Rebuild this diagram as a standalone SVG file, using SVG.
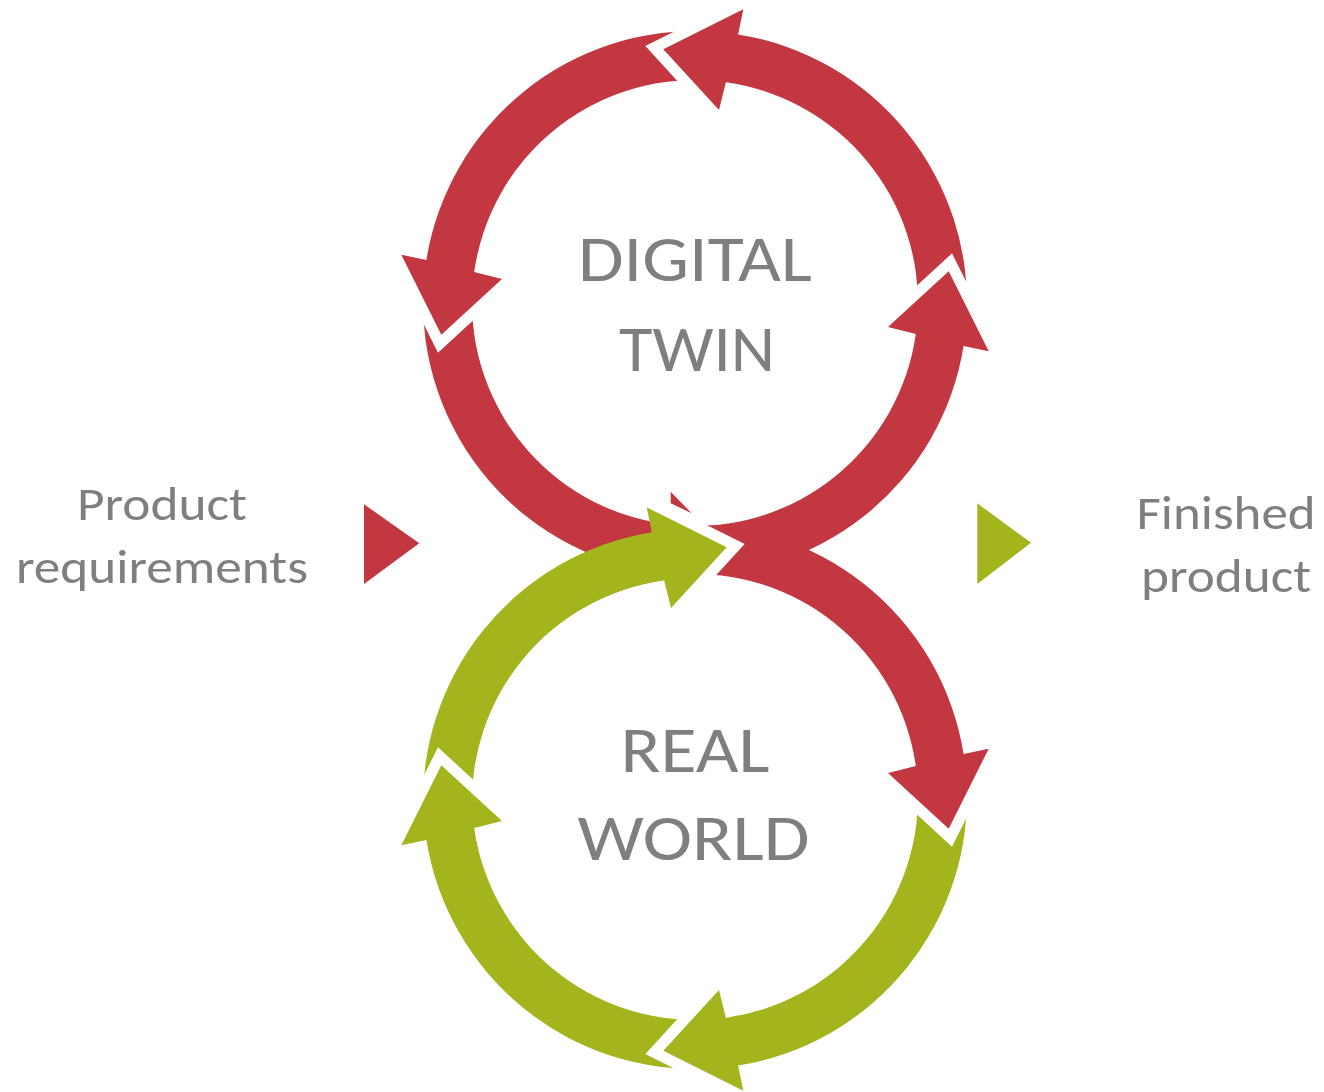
<svg xmlns="http://www.w3.org/2000/svg" xmlns:xlink="http://www.w3.org/1999/xlink" width="1324" height="1092" viewBox="0 0 1324 1092">
<style>
.red{fill:#C33741}
.green{fill:#A4B41D}
.gap{fill:none;stroke:#FFFFFF;stroke-width:22;stroke-linejoin:miter;stroke-miterlimit:10}
.big{font-family:Carlito,Lato,"Open Sans",sans-serif;font-size:66px;fill:#7F7F7F;text-anchor:middle}
.side{font-family:Carlito,Lato,"Open Sans",sans-serif;font-size:47px;fill:#7F7F7F;text-anchor:middle}
</style>
<defs>
<path id="a-right" d="M676.03,574.34 A272,272 0 0 0 963.6,346.1 L988.7,351.3 L948.7,271.3 L888,327 L915.8,333.9 A223,223 0 0 1 679.44,525.46 Z"/>
<polyline id="g-right" points="988.7,351.3 948.7,271.3 888,327"/>
<path id="a-top" d="M966.63,317.24 A272,272 0 0 0 738.1,34.4 L743.3,9.3 L663.3,49.3 L719,110 L725.9,82.2 A223,223 0 0 1 917.69,314.67 Z"/>
<polyline id="g-top" points="743.3,9.3 663.3,49.3 719,110"/>
<path id="a-left" d="M709.24,31.37 A272,272 0 0 0 426.4,259.9 L401.3,254.7 L441.3,334.7 L502,279 L474.2,272.1 A223,223 0 0 1 706.67,80.31 Z"/>
<polyline id="g-left" points="401.3,254.7 441.3,334.7 502,279"/>
</defs>
<rect width="1324" height="1092" fill="#FFFFFF"/>

<g id="digital-twin-cycle">
<path class="red" d="M423.37,288.76 A272,272 0 0 0 671.29,573.96 L675.56,525.15 A223,223 0 0 1 472.31,291.33 Z"/>
<use xlink:href="#g-left" href="#g-left" class="gap"/>
<use xlink:href="#a-left" href="#a-left" class="red"/>
<use xlink:href="#g-top" href="#g-top" class="gap"/>
<use xlink:href="#a-top" href="#a-top" class="red"/>
<use xlink:href="#g-right" href="#g-right" class="gap"/>
<use xlink:href="#a-right" href="#a-right" class="red"/>
</g>

<g id="real-world-cycle">
<path class="green" d="M423.37,815.24 A272,272 0 0 1 651.9,532.4 L664.1,580.2 A223,223 0 0 0 472.31,812.67 Z"/>
<g transform="matrix(1 0 0 -1 0 1100)">
<use xlink:href="#g-left" href="#g-left" class="gap"/>
<use xlink:href="#a-left" href="#a-left" class="green"/>
<use xlink:href="#g-top" href="#g-top" class="gap"/>
<use xlink:href="#a-top" href="#a-top" class="green"/>
<use xlink:href="#g-right" href="#g-right" class="gap"/>
<use xlink:href="#a-right" href="#a-right" class="red"/>
</g>
<polyline class="gap" points="646.7,507.3 726.7,547.3 671,608"/>
<polygon class="red" points="670.7,491.7 691.7,513.3 670.7,503.3"/>
<path class="green" d="M559,565.44 A272,272 0 0 1 651.9,532.4 L646.7,507.3 L726.7,547.3 L671,608 L664.1,580.2 A223,223 0 0 0 583.5,607.88 Z"/>
</g>

<g id="digital-twin-label">
<text class="big" x="695" y="281" textLength="234" lengthAdjust="spacingAndGlyphs">DIGITAL</text>
<text class="big" x="697" y="371" textLength="156" lengthAdjust="spacingAndGlyphs">TWIN</text>
</g>
<g id="real-world-label">
<text class="big" x="695" y="772" textLength="149" lengthAdjust="spacingAndGlyphs">REAL</text>
<text class="big" x="693.5" y="860" textLength="232" lengthAdjust="spacingAndGlyphs">WORLD</text>
</g>

<g id="product-requirements">
<text class="side" x="162" y="520" textLength="170" lengthAdjust="spacingAndGlyphs">Product</text>
<text class="side" x="162" y="583" textLength="292" lengthAdjust="spacingAndGlyphs">requirements</text>
<polygon class="red" points="364,504.3 419.3,543.3 364,584"/>
</g>
<g id="finished-product">
<polygon class="green" points="977.3,503.3 1031,542.7 977.3,584"/>
<text class="side" x="1226" y="529" textLength="179" lengthAdjust="spacingAndGlyphs">Finished</text>
<text class="side" x="1226" y="592" textLength="170" lengthAdjust="spacingAndGlyphs">product</text>
</g>
</svg>
